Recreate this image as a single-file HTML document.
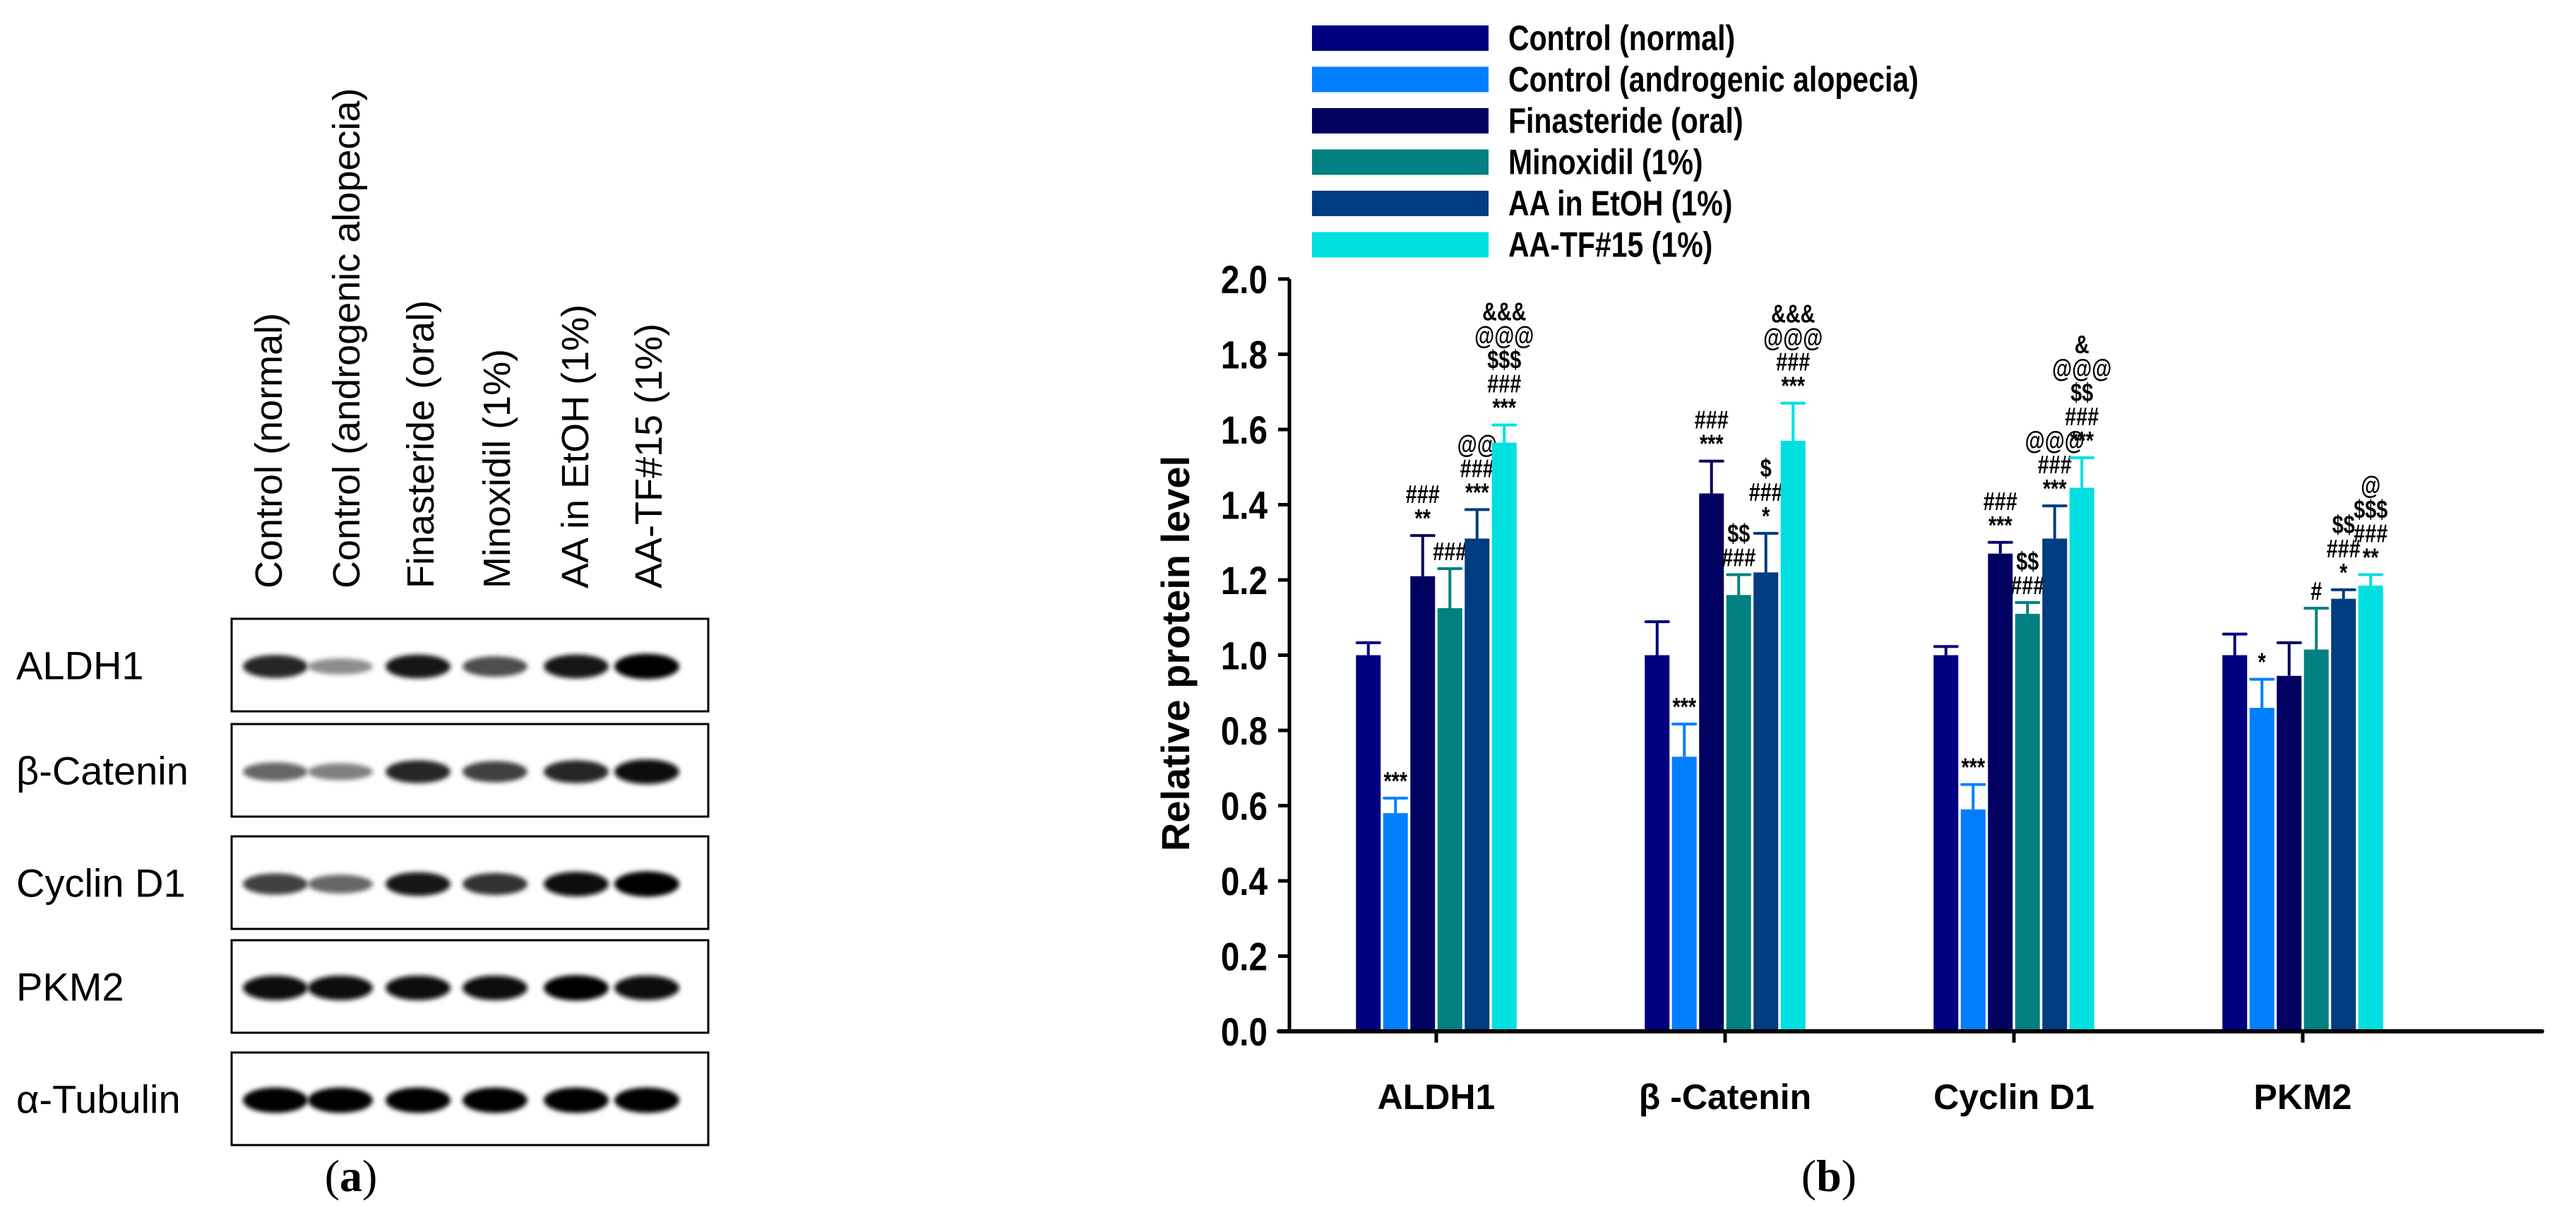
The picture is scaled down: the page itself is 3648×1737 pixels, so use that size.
<!DOCTYPE html>
<html><head><meta charset="utf-8"><style>
html,body{margin:0;padding:0;background:#fff;}
svg{display:block;}
</style></head><body>
<svg id="fig" width="3648" height="1737" viewBox="0 0 3648 1737" xmlns="http://www.w3.org/2000/svg">
<defs>
<filter id="blur" x="-20%" y="-50%" width="140%" height="200%"><feGaussianBlur stdDeviation="3.5"/></filter>
</defs>
<g id="panelA" font-family="Liberation Sans, sans-serif"></g>
<g id="panelB" font-family="Liberation Sans, sans-serif"></g>
</svg>
<script>
// ---- Chart data ----
const categories = ["ALDH1", "β -Catenin", "Cyclin D1", "PKM2"];
const seriesNames = ["Control (normal)", "Control (androgenic alopecia)", "Finasteride (oral)", "Minoxidil (1%)", "AA in EtOH (1%)", "AA-TF#15 (1%)"];
const seriesColors = ["#000080", "#0080FF", "#000060", "#008080", "#003C80", "#00E0E0"];
const valuesALDH1 = [1.00, 0.58, 1.21, 1.125, 1.31, 1.565];
const valuesCatenin = [1.00, 0.73, 1.43, 1.16, 1.22, 1.57];
const valuesCyclin = [1.00, 0.59, 1.27, 1.11, 1.31, 1.445];
const valuesPKM2 = [1.00, 0.86, 0.945, 1.015, 1.15, 1.185];
const errALDH1 = [0.033, 0.04, 0.108, 0.105, 0.077, 0.047];
const errCatenin = [0.089, 0.087, 0.086, 0.054, 0.104, 0.10];
const errCyclin = [0.023, 0.066, 0.03, 0.03, 0.087, 0.08];
const errPKM2 = [0.056, 0.076, 0.088, 0.11, 0.024, 0.029];
const annALDH1 = [[], ["***"], ["**","###"], ["###"], ["***","###","@@"], ["***","###","$$$","@@@","&&&"]];
const annCatenin = [[], ["***"], ["***","###"], ["###","$$"], ["*","###","$"], ["***","###","@@@","&&&"]];
const annCyclin = [[], ["***"], ["***","###"], ["###","$$"], ["***","###","@@@"], ["***","###","$$","@@@","&"]];
const annPKM2 = [[], ["*"], [], ["#"], ["*","###","$$"], ["**","###","$$$","@"]];
const yTicks = ["0.0","0.2","0.4","0.6","0.8","1.0","1.2","1.4","1.6","1.8","2.0"];

// ---- Blot data ----
const blotRows = ["ALDH1", "β-Catenin", "Cyclin D1", "PKM2", "α-Tubulin"];
const laneLabels = ["Control (normal)", "Control (androgenic alopecia)", "Finasteride (oral)", "Minoxidil (1%)", "AA  in  EtOH  (1%)", "AA-TF#15 (1%)"];
const bandIntensity = [
  [0.85, 0.45, 0.9, 0.7, 0.9, 1.0],
  [0.6, 0.5, 0.85, 0.75, 0.85, 0.95],
  [0.75, 0.6, 0.9, 0.8, 0.95, 1.0],
  [0.95, 0.95, 0.95, 0.95, 1.0, 0.95],
  [1.0, 1.0, 1.0, 1.0, 1.0, 1.0]
];

const NS = "http://www.w3.org/2000/svg";
function mk(tag, attrs, parent) {
  const e = document.createElementNS(NS, tag);
  for (const k in attrs) e.setAttribute(k, attrs[k]);
  parent.appendChild(e);
  return e;
}

// ---------- Panel A ----------
const A = document.getElementById("panelA");
const boxX0 = 328, boxX1 = 1003;
const boxTop = [876, 1025, 1184, 1331, 1490];
const boxH = 131;
const laneX = [390, 482, 592, 701, 816, 916];
const laneTextX = [380, 490, 595, 703, 814, 918];
laneLabels.forEach((t, i) => {
  const tx = mk("text", {x: 0, y: 0, "font-size": 54, fill: "#000", transform: `translate(${laneTextX[i] + 19},833) rotate(-90)`}, A);
  tx.textContent = t;
  
  
});
blotRows.forEach((r, ri) => {
  const y0 = boxTop[ri];
  const lab = mk("text", {x: 23, y: y0 + boxH / 2 + 20, "font-size": 56, fill: "#000"}, A);
  lab.textContent = r;
  
  
  const box = mk("rect", {x: boxX0, y: y0, width: boxX1 - boxX0, height: boxH, fill: "#fff", stroke: "#000", "stroke-width": 3}, A);
  
  
  laneX.forEach((lx, li) => {
    const inten = bandIntensity[ri][li];
    const h = 12 + 24 * inten;
    const g = Math.round(255 * (1 - inten));
    const band = mk("ellipse", {cx: lx, cy: y0 + boxH / 2 + 2, rx: 46, ry: h / 2, fill: `rgb(${g},${g},${g})`, filter: "url(#blur)"}, A);
    
    
  });
});
const la = mk("text", {x: 497, y: 1686, "font-size": 64, "font-family": "Liberation Serif, serif", "text-anchor": "middle", fill: "#000"}, A);
la.innerHTML = '(<tspan font-weight="bold">a</tspan>)';



// ---------- Panel B ----------
const B = document.getElementById("panelB");
const axX = 1826, axY = 1460, topY = 395, axRight = 3600;
const yScale = v => axY - v * (axY - topY) / 2.0;
const groupCenter0 = 2034, groupPitch = 409;
const xCenter = i => groupCenter0 + groupPitch * i;
const barPitch = 38.5, barW = 35;
const barX = (g, s) => xCenter(g) + (s - 2.5) * barPitch - barW / 2;

const allValues = [valuesALDH1, valuesCatenin, valuesCyclin, valuesPKM2];
const allErr = [errALDH1, errCatenin, errCyclin, errPKM2];
const allAnn = [annALDH1, annCatenin, annCyclin, annPKM2];

allValues.forEach((vals, g) => {
  vals.forEach((v, s) => {
    const x = barX(g, s);
    const cx = x + barW / 2;
    const top = yScale(v);
    const eTop = yScale(v + allErr[g][s]);
    const bar = mk("rect", {x: x, y: top, width: barW, height: axY - top, fill: seriesColors[s]}, B);
    
    
    const el = mk("line", {x1: cx, y1: top, x2: cx, y2: eTop, stroke: seriesColors[s], "stroke-width": 4}, B);
    
    
    const cap = mk("line", {x1: cx - 16, y1: eTop, x2: cx + 16, y2: eTop, stroke: seriesColors[s], "stroke-width": 4, "stroke-linecap": "round"}, B);
    
    
    allAnn[g][s].forEach((t, k) => {
      const ty = eTop - 12 - k * 34;
      const an = mk("text", {x: 0, y: 0, "font-size": 36, "font-weight": "bold", "text-anchor": "middle", fill: "#000", transform: `translate(${cx},${ty}) scale(0.8,1)`}, B);
      an.textContent = t;
      
      
    });
  });
});

const yAxis = mk("line", {x1: axX, y1: topY, x2: axX, y2: axY + 2, stroke: "#000", "stroke-width": 5}, B);


const xAxis = mk("line", {x1: axX - 15, y1: axY, x2: axRight, y2: axY, stroke: "#000", "stroke-width": 6, "stroke-linecap": "round"}, B);


yTicks.forEach(t => {
  const v = parseFloat(t);
  const y = yScale(v);
  const tk = mk("line", {x1: axX - 16, y1: y, x2: axX, y2: y, stroke: "#000", "stroke-width": 5}, B);
  
  
  const lb = mk("text", {x: 0, y: 0, "font-size": 56, "font-weight": "bold", "text-anchor": "end", fill: "#000", transform: `translate(1795,${y + 20}) scale(0.85,1)`}, B);
  lb.textContent = t;
  
  
});
categories.forEach((c, i) => {
  const x = xCenter(i);
  const tk = mk("line", {x1: x, y1: axY, x2: x, y2: axY + 16, stroke: "#000", "stroke-width": 5}, B);
  
  
  const lb = mk("text", {x: x, y: 1570, "font-size": 50, "font-weight": "bold", "text-anchor": "middle", fill: "#000"}, B);
  lb.textContent = c;
  
  
});
const yt = mk("text", {x: 0, y: 0, "font-size": 56, "font-weight": "bold", "text-anchor": "middle", fill: "#000", transform: "translate(1684,925) rotate(-90)"}, B);
yt.textContent = "Relative protein level";



seriesNames.forEach((n, i) => {
  const y = 36 + i * 58.5;
  const sw = mk("rect", {x: 1858, y: y, width: 250, height: 36, fill: seriesColors[i]}, B);
  
  
  const lt = mk("text", {x: 0, y: 0, "font-size": 50, "font-weight": "bold", fill: "#000", transform: `translate(2136,${y + 35}) scale(0.82,1)`}, B);
  lt.textContent = n;
  
  
});

const lbb = mk("text", {x: 2590, y: 1686, "font-size": 64, "font-family": "Liberation Serif, serif", "text-anchor": "middle", fill: "#000"}, B);
lbb.innerHTML = '(<tspan font-weight="bold">b</tspan>)';


</script>
</body></html>
